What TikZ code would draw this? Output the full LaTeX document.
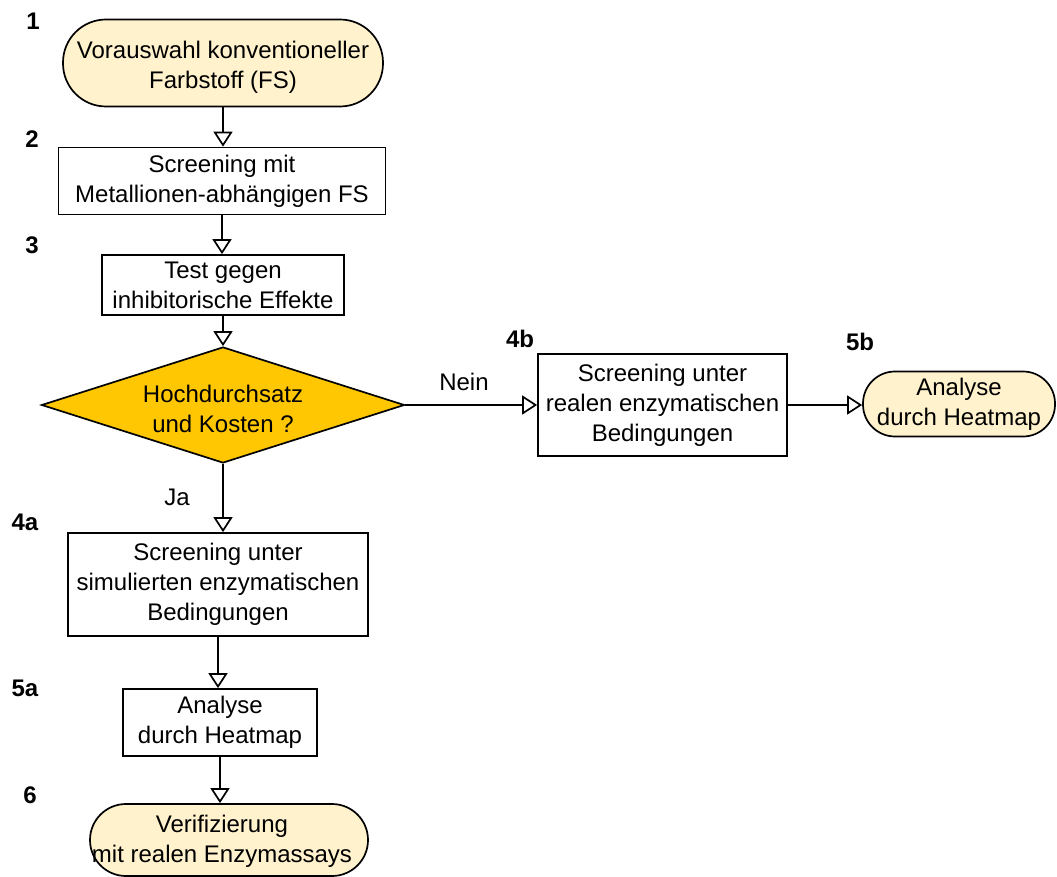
\documentclass[tikz,border=0pt]{standalone}
\usepackage{fontspec}
\setmainfont{Liberation Sans}
\usetikzlibrary{arrows.meta,shapes.geometric}
\definecolor{termfill}{HTML}{FFF2CC}
\definecolor{decfill}{HTML}{FFC602}
\begin{document}
\begin{tikzpicture}[x=1pt,y=-1pt,
  every node/.style={font=\fontsize{24pt}{30pt}\selectfont, align=center, inner sep=0pt},
  stepbox/.style={draw, line width=1.7pt, rectangle},
  term/.style={draw, line width=1.7pt, fill=termfill, rectangle},
  dec/.style={draw, line width=1.7pt, fill=decfill, diamond, aspect=3.1},
  num/.style={font=\fontsize{24pt}{24pt}\selectfont\bfseries},
  arr/.style={line width=1.7pt, -{Triangle[open,length=15pt,width=19pt]}}]
\useasboundingbox (0,0) rectangle (1057,877);

\node[term, minimum width=320pt, minimum height=87pt, rounded corners=43pt] (n1) at (223,63) {};
\node (t1) at (223,67) {Vorauswahl konventioneller\\Farbstoff (FS)};
\node[stepbox, minimum width=327pt, minimum height=67pt] (n2) at (222,181) {Screening mit\\Metallionen-abhängigen FS};
\node[stepbox, minimum width=242pt, minimum height=60pt] (n3) at (223,285) {Test gegen\\inhibitorische Effekte};
\node[dec, minimum width=363pt, minimum height=116pt] (d) at (223,405) {};
\node (td) at (223,409) {Hochdurchsatz\\und Kosten ?};
\node[stepbox, minimum width=249pt, minimum height=102pt] (n4b) at (662.5,405) {Screening unter\\realen enzymatischen\\Bedingungen};
\node[term, minimum width=192pt, minimum height=65pt, rounded corners=32pt] (n5b) at (959,404) {Analyse\\durch Heatmap};
\node[stepbox, minimum width=300pt, minimum height=103pt] (n4a) at (218,584.5) {Screening unter\\simulierten enzymatischen\\Bedingungen};
\node[stepbox, minimum width=194pt, minimum height=67pt] (n5a) at (220,722.5) {Analyse\\durch Heatmap};
\node[term, minimum width=278pt, minimum height=72pt, rounded corners=36pt] (n6) at (229,840) {};
\node (t6) at (222,841) {Verifizierung\\mit realen Enzymassays};

\node[num] (l1) at (33,21) {1};
\node[num] (l2) at (32,139) {2};
\node[num] (l3) at (32,245) {3};
\node[num] (l4a) at (25,522) {4a};
\node[num] (l5a) at (25,688) {5a};
\node[num] (l6) at (30,795) {6};
\node[num] (l4b) at (520,339) {4b};
\node[num] (l5b) at (860,342) {5b};

\draw[arr] (n1.south) -- (n1.south |- n2.north);
\draw[arr] (n2.south) -- (n2.south |- n3.north);
\draw[arr] (n3.south) -- (n3.south |- d.north);
\draw[arr] (d.south) -- (d.south |- n4a.north);
\node (ja) at (177,497) {Ja};
\draw[arr] (d.east) -- (d.east -| n4b.west);
\node (nein) at (464,382) {Nein};
\draw[arr] (n4b.east) -- (n4b.east -| n5b.west);
\draw[arr] (n4a.south) -- (n4a.south |- n5a.north);
\draw[arr] (n5a.south) -- (n5a.south |- n6.north);
\end{tikzpicture}
\end{document}
